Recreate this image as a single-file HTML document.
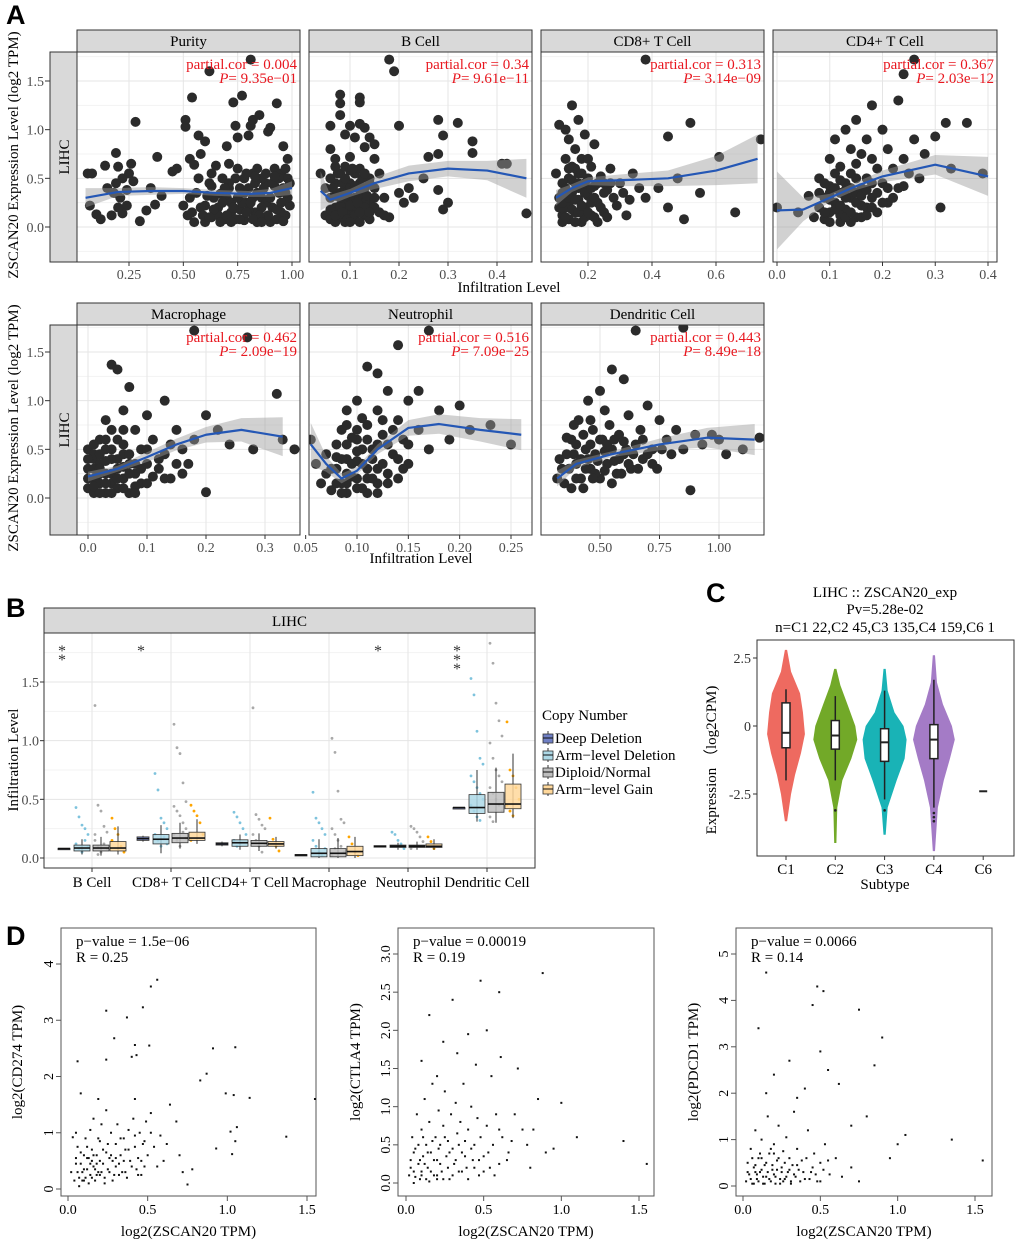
<!DOCTYPE html>
<html><head><meta charset="utf-8"><style>
html,body{margin:0;padding:0;background:#fff}
svg{display:block;font-family:"Liberation Serif",serif}
.lt{font-family:"Liberation Sans",sans-serif;font-weight:bold;font-size:27px}
</style></head><body>
<svg id="fig" width="1020" height="1243" viewBox="0 0 1020 1243"></svg>
<script>
// ---------- Panel A data ----------
const aPanels = ["Purity","B Cell","CD8+ T Cell","CD4+ T Cell","Macrophage","Neutrophil","Dendritic Cell"];
const aCor = ["0.004","0.34","0.313","0.367","0.462","0.516","0.443"];
const aP = ["9.35e\u221201","9.61e\u221211","3.14e\u221209","2.03e\u221212","2.09e\u221219","7.09e\u221225","8.49e\u221218"];
const aXTicks = [[0.25,0.5,0.75,1.0],[0.1,0.2,0.3,0.4],[0.2,0.4,0.6],[0.0,0.1,0.2,0.3,0.4],[0.0,0.1,0.2,0.3],[0.05,0.10,0.15,0.20,0.25],[0.50,0.75,1.00]];
const aXTickLabels = [["0.25","0.50","0.75","1.00"],["0.1","0.2","0.3","0.4"],["0.2","0.4","0.6"],["0.0","0.1","0.2","0.3","0.4"],["0.0","0.1","0.2","0.3"],["0.05","0.10","0.15","0.20","0.25"],["0.50","0.75","1.00"]];
const aYTicks = [0,0.5,1.0,1.5];
const aYTickLabels = ["0.0","0.5","1.0","1.5"];
const ptsPurity = [0.06,0.55,0.08,0.55,0.1,0.13,0.07,0.22,0.12,0.08,0.14,0.63,0.18,0.35,0.19,0.76,0.2,0.62,0.22,0.5,0.21,0.3,0.24,0.22,0.25,0.55,0.26,0.65,0.27,0.47,0.28,1.08,0.17,0.12,0.22,0.14,0.3,0.06,0.33,0.17,0.35,0.4,0.38,0.72,0.37,0.23,0.4,0.32,0.45,0.57,0.47,0.6,0.51,1.1,0.51,1.03,0.5,0.22,0.52,0.12,0.53,0.7,0.54,1.33,0.55,0.64,0.55,0.05,0.57,0.94,0.58,0.75,0.6,0.22,0.6,0.88,0.62,1.6,0.62,0.45,0.63,0.1,0.65,0.63,0.66,0.2,0.67,0.34,0.68,0.5,0.7,0.83,0.71,0.65,0.72,0.15,0.73,1.28,0.74,1.04,0.75,0.92,0.76,0.4,0.77,1.35,0.78,0.07,0.79,0.25,0.8,0.94,0.81,1.72,0.81,1.04,0.82,1.1,0.82,0.55,0.83,0.15,0.84,0.6,0.85,1.15,0.86,0.3,0.87,0.1,0.88,0.45,0.89,0.98,0.9,1.02,0.91,0.2,0.92,0.6,0.93,1.27,0.94,0.35,0.95,0.55,0.96,0.83,0.97,0.12,0.98,0.7,0.99,0.22,0.9,0.05,0.7,0.3,0.64,0.3,0.58,0.2,0.74,0.5,0.78,0.35,0.86,0.5,0.96,0.4,0.69,0.08,0.56,0.35,0.76,0.18,0.88,0.25,0.92,0.42,0.82,0.3,0.72,0.25,0.6,0.05,0.66,0.12,0.74,0.08,0.8,0.18,0.84,0.05,0.95,0.15,0.98,0.5,0.53,0.3,0.63,0.42,0.71,0.45,0.89,0.12,0.93,0.08,0.98,0.3,0.86,0.2,0.77,0.25,
 0.59,0.12,0.61,0.32,0.64,0.18,0.67,0.05,0.68,0.25,0.7,0.12,0.71,0.4,0.73,0.2,0.75,0.3,0.76,0.08,0.78,0.5,0.79,0.15,0.8,0.4,0.81,0.25,0.83,0.45,0.84,0.35,0.85,0.12,0.86,0.05,0.87,0.4,0.88,0.55,0.9,0.3,0.91,0.45,0.93,0.18,0.94,0.5,0.95,0.25,0.96,0.06,0.97,0.35,0.99,0.45,0.57,0.5,0.63,0.55,0.69,0.4,0.75,0.6,0.79,0.55,0.83,0.52,0.92,0.52,0.97,0.6,0.54,0.15,0.62,0.1,0.72,0.05,0.82,0.08,0.15,0.4,0.2,0.2,0.24,0.38,0.19,0.45];
const ptsBCell = [0.04,0.55,0.05,0.12,0.06,1.04,0.06,0.8,0.06,0.3,0.06,0.08,0.07,0.45,0.07,0.2,0.07,0.7,0.08,1.36,0.08,1.27,0.08,1.15,0.08,0.55,0.08,0.1,0.08,0.35,0.09,0.95,0.09,0.62,0.09,0.25,0.09,0.05,0.1,1.04,0.1,0.45,0.1,0.15,0.1,0.72,0.11,0.92,0.11,0.55,0.11,0.3,0.11,0.08,0.12,1.33,0.12,1.28,0.12,1.06,0.12,0.6,0.12,0.2,0.13,1.02,0.13,0.82,0.13,0.4,0.13,0.12,0.14,0.92,0.14,0.5,0.14,0.25,0.15,0.85,0.15,0.7,0.15,0.4,0.16,0.15,0.16,0.55,0.17,0.3,0.18,1.72,0.18,0.1,0.19,1.6,0.2,1.04,0.2,0.35,0.21,0.25,0.22,0.4,0.23,0.3,0.25,0.5,0.26,0.72,0.28,1.1,0.28,0.75,0.28,0.38,0.29,0.94,0.29,0.18,0.3,0.25,0.32,1.07,0.35,0.76,0.35,0.88,0.41,0.65,0.42,0.65,0.46,0.14,0.05,0.4,0.07,0.05,0.09,0.15,0.1,0.3,0.12,0.45,0.14,0.08,0.11,0.2,0.06,0.5,0.08,0.22,0.09,0.4,0.1,0.58,0.07,0.32,0.12,0.32,0.13,0.25,0.15,0.2,0.17,0.12,
 0.06,0.18,0.065,0.4,0.07,0.12,0.075,0.55,0.08,0.3,0.085,0.45,0.085,0.15,0.09,0.5,0.095,0.08,0.1,0.22,0.1,0.4,0.105,0.6,0.11,0.12,0.11,0.42,0.115,0.25,0.12,0.05,0.12,0.38,0.125,0.5,0.13,0.2,0.135,0.32,0.14,0.15,0.14,0.45,0.15,0.3,0.07,0.62,0.09,0.32,0.1,0.05,0.12,0.15,0.13,0.55];
const ptsCD8 = [0.1,0.55,0.11,1.05,0.11,0.3,0.12,0.12,0.12,0.45,0.13,1.0,0.13,0.7,0.13,0.2,0.14,0.9,0.14,0.5,0.14,0.08,0.15,1.25,0.15,0.35,0.15,0.62,0.16,0.8,0.16,0.15,0.16,0.45,0.17,1.1,0.17,0.28,0.17,0.55,0.18,0.05,0.18,0.4,0.18,0.7,0.19,0.95,0.19,0.2,0.2,0.5,0.2,0.32,0.21,0.12,0.21,0.62,0.22,0.42,0.22,0.85,0.23,0.25,0.24,0.52,0.25,0.15,0.26,0.38,0.27,0.6,0.28,0.3,0.3,0.45,0.32,0.12,0.34,0.55,0.38,1.72,0.38,0.3,0.42,0.4,0.45,0.93,0.45,0.2,0.48,0.5,0.5,0.08,0.52,1.07,0.55,0.35,0.61,0.72,0.66,0.15,0.74,0.9,0.12,0.35,0.14,0.25,0.16,0.6,0.19,0.1,0.2,0.7,0.23,0.05,0.12,0.05,0.17,0.4,0.25,0.45,
 0.11,0.2,0.12,0.25,0.13,0.4,0.13,0.1,0.14,0.3,0.14,0.6,0.15,0.18,0.15,0.48,0.16,0.28,0.16,0.05,0.17,0.15,0.17,0.45,0.18,0.22,0.18,0.55,0.19,0.35,0.19,0.45,0.2,0.15,0.21,0.4,0.21,0.25,0.22,0.1,0.22,0.3,0.23,0.45,0.24,0.2,0.25,0.35,0.26,0.1,0.27,0.45,0.29,0.22,0.31,0.35,0.33,0.28,0.36,0.4];
const ptsCD4 = [0.0,0.2,0.04,0.15,0.06,0.32,0.07,0.1,0.08,0.2,0.08,0.5,0.09,0.3,0.09,0.08,0.1,0.7,0.1,0.42,0.1,0.15,0.11,0.55,0.11,0.25,0.11,0.9,0.12,0.05,0.12,0.35,0.12,0.62,0.13,1.0,0.13,0.45,0.13,0.18,0.14,0.8,0.14,0.3,0.14,0.55,0.15,0.1,0.15,0.65,0.15,1.1,0.16,0.4,0.16,0.22,0.17,0.9,0.17,0.5,0.18,1.25,0.18,0.3,0.18,0.7,0.19,0.15,0.19,0.6,0.2,1.0,0.2,0.45,0.21,0.8,0.21,0.25,0.22,0.6,0.23,1.3,0.23,0.4,0.24,1.57,0.24,0.7,0.25,0.55,0.26,1.72,0.26,0.9,0.27,0.5,0.28,0.75,0.3,0.93,0.31,0.2,0.32,1.07,0.33,0.6,0.36,1.07,0.39,0.55,0.12,0.12,0.14,0.05,0.16,0.75,0.1,0.28,0.13,0.38,0.17,0.2,0.09,0.45,0.15,0.35,
 0.08,0.35,0.09,0.15,0.1,0.35,0.1,0.05,0.11,0.18,0.11,0.4,0.12,0.22,0.12,0.48,0.13,0.1,0.13,0.3,0.14,0.4,0.14,0.15,0.15,0.25,0.15,0.5,0.16,0.1,0.16,0.32,0.17,0.38,0.17,0.12,0.18,0.45,0.18,0.2,0.19,0.35,0.2,0.25,0.21,0.4,0.22,0.3,0.24,0.42];
const ptsMacro = [0.0,0.1,0.0,0.3,0.0,0.5,0.01,0.05,0.01,0.2,0.01,0.4,0.02,0.6,0.02,0.15,0.02,0.35,0.03,0.05,0.03,0.25,0.03,0.5,0.03,0.8,0.04,1.37,0.04,0.15,0.04,0.4,0.05,1.32,0.05,0.3,0.05,0.6,0.05,0.1,0.06,0.9,0.06,0.2,0.06,0.45,0.07,1.14,0.07,0.35,0.07,0.05,0.08,0.7,0.08,0.25,0.09,0.5,0.09,0.15,0.1,0.85,0.1,0.35,0.11,0.6,0.12,0.3,0.13,1.0,0.13,0.45,0.14,0.2,0.15,0.7,0.16,0.5,0.17,0.35,0.18,1.72,0.18,0.6,0.2,0.85,0.2,0.06,0.22,0.7,0.24,0.55,0.27,1.65,0.28,0.5,0.32,1.07,0.33,0.6,0.35,0.5,0.02,0.25,0.04,0.05,0.06,0.32,0.01,0.45,0.03,0.38,0.08,0.12,0.11,0.22,
 0.0,0.2,0.0,0.4,0.01,0.3,0.01,0.12,0.02,0.05,0.02,0.45,0.02,0.3,0.03,0.15,0.03,0.6,0.04,0.25,0.04,0.5,0.05,0.2,0.05,0.4,0.06,0.1,0.06,0.55,0.07,0.25,0.07,0.45,0.08,0.35,0.08,0.05,0.09,0.3,0.1,0.15,0.1,0.5,0.12,0.4,0.13,0.2,0.14,0.55,0.15,0.35,0.16,0.25,0.04,0.7,0.06,0.7,0.01,0.55];
const ptsNeut = [0.055,0.6,0.06,0.35,0.065,0.15,0.07,0.45,0.07,0.25,0.075,0.08,0.08,0.55,0.08,0.3,0.085,0.15,0.085,0.7,0.09,0.05,0.09,0.4,0.09,0.9,0.095,0.22,0.1,0.6,0.1,0.1,0.1,1.0,0.105,0.35,0.11,1.35,0.11,0.75,0.11,0.2,0.115,0.5,0.12,1.28,0.12,0.9,0.12,0.3,0.125,0.65,0.13,1.1,0.13,0.15,0.135,0.45,0.14,1.57,0.14,0.8,0.145,0.6,0.15,1.0,0.15,0.35,0.16,1.1,0.16,0.7,0.17,1.72,0.17,0.5,0.18,0.9,0.19,0.6,0.2,0.95,0.21,0.7,0.23,0.75,0.25,0.55,0.08,0.42,0.09,0.25,0.1,0.48,0.11,0.05,0.12,0.15,0.095,0.62,0.105,0.82,
 0.075,0.3,0.08,0.15,0.085,0.4,0.09,0.55,0.09,0.15,0.095,0.35,0.1,0.2,0.1,0.38,0.105,0.5,0.105,0.1,0.11,0.3,0.11,0.6,0.115,0.4,0.115,0.2,0.12,0.55,0.12,0.05,0.125,0.35,0.13,0.25,0.13,0.55,0.135,0.7,0.14,0.4,0.14,0.2,0.15,0.55,0.145,0.3,0.085,0.05,0.1,0.7,0.125,0.8,0.09,0.75];
const ptsDC = [0.32,0.2,0.34,0.3,0.36,0.45,0.38,0.1,0.38,0.6,0.4,0.35,0.41,0.8,0.42,0.2,0.44,0.5,0.45,1.0,0.46,0.3,0.47,0.7,0.48,0.45,0.5,1.1,0.5,0.2,0.51,0.6,0.52,0.9,0.53,0.35,0.54,0.75,0.55,1.32,0.55,0.5,0.57,0.25,0.58,0.65,0.6,1.22,0.6,0.45,0.62,0.85,0.63,0.3,0.65,1.72,0.65,0.55,0.67,0.7,0.68,0.4,0.7,0.95,0.72,0.5,0.74,0.3,0.75,0.8,0.78,0.6,0.8,0.45,0.82,0.7,0.85,1.75,0.85,0.5,0.88,0.08,0.9,0.65,0.93,0.55,0.97,0.65,1.0,0.6,1.03,0.45,1.1,0.5,1.17,0.62,0.4,0.55,0.43,0.65,0.48,0.25,0.52,0.48,0.56,0.38,0.6,0.58,0.45,0.4,
 0.33,0.4,0.35,0.15,0.37,0.3,0.39,0.45,0.4,0.2,0.42,0.4,0.43,0.1,0.44,0.3,0.46,0.55,0.47,0.2,0.49,0.38,0.5,0.6,0.52,0.28,0.53,0.55,0.55,0.15,0.56,0.6,0.58,0.4,0.59,0.25,0.61,0.5,0.62,0.35,0.64,0.45,0.66,0.3,0.68,0.6,0.7,0.45,0.72,0.35,0.76,0.5,0.46,0.8,0.39,0.75,0.36,0.62];
const aPoints = [ptsPurity,ptsBCell,ptsCD8,ptsCD4,ptsMacro,ptsNeut,ptsDC];
const aFitX = [[0.05,0.2,0.35,0.5,0.65,0.8,0.9,1.0],[0.04,0.06,0.1,0.15,0.22,0.3,0.38,0.46],[0.1,0.15,0.2,0.3,0.45,0.6,0.73],[0.0,0.05,0.1,0.15,0.2,0.3,0.4],[0.0,0.05,0.1,0.15,0.2,0.26,0.33],[0.055,0.07,0.085,0.1,0.12,0.15,0.18,0.22,0.26],[0.32,0.4,0.55,0.75,0.95,1.15]];
const aFitY = [[0.3,0.36,0.37,0.37,0.35,0.34,0.35,0.4],[0.37,0.28,0.35,0.45,0.55,0.6,0.58,0.5],[0.3,0.4,0.47,0.48,0.5,0.58,0.7],[0.17,0.18,0.3,0.42,0.52,0.64,0.52],[0.22,0.3,0.42,0.55,0.65,0.7,0.63],[0.55,0.35,0.2,0.28,0.5,0.72,0.76,0.7,0.65],[0.2,0.35,0.45,0.55,0.62,0.6]];
const aFitSE = [[0.1,0.04,0.04,0.03,0.03,0.03,0.04,0.07],[0.2,0.05,0.04,0.06,0.08,0.08,0.1,0.2],[0.08,0.04,0.04,0.06,0.08,0.15,0.25],[0.4,0.12,0.04,0.04,0.06,0.1,0.2],[0.05,0.03,0.05,0.06,0.08,0.12,0.2],[0.22,0.08,0.05,0.04,0.05,0.08,0.1,0.12,0.16],[0.08,0.04,0.03,0.06,0.1,0.16]];
// ---------- Panel B data ----------
const bCats = ["B Cell","CD8+ T Cell","CD4+ T Cell","Macrophage","Neutrophil","Dendritic Cell"];
const bGroups = ["Deep Deletion","Arm\u2212level Deletion","Diploid/Normal","Arm\u2212level Gain"];
const bYTicks = [0,0.5,1.0,1.5];
const bYTickLabels = ["0.0","0.5","1.0","1.5"];
const bStats = [
 [[0.08,0.077,0.083,0.077,0.083],[0.085,0.06,0.11,0.03,0.16],[0.085,0.06,0.11,0.02,0.18],[0.085,0.06,0.14,0.03,0.27]],
 [[0.165,0.15,0.18,0.14,0.19],[0.16,0.12,0.2,0.04,0.28],[0.17,0.13,0.21,0.08,0.3],[0.17,0.15,0.22,0.12,0.33]],
 [[0.12,0.11,0.13,0.1,0.14],[0.13,0.1,0.155,0.07,0.2],[0.125,0.1,0.15,0.06,0.21],[0.12,0.1,0.14,0.08,0.18]],
 [[0.025,0.02,0.03,0.02,0.03],[0.04,0.01,0.08,0.0,0.16],[0.04,0.01,0.08,0.0,0.17],[0.055,0.02,0.1,0.0,0.18]],
 [[0.1,0.1,0.105,0.1,0.105],[0.1,0.09,0.11,0.07,0.13],[0.1,0.09,0.11,0.07,0.14],[0.1,0.09,0.12,0.07,0.16]],
 [[0.43,0.43,0.43,0.43,0.43],[0.43,0.38,0.54,0.31,0.75],[0.46,0.39,0.56,0.3,0.77],[0.46,0.42,0.63,0.34,0.89]]];
const bOutliers = [
 [[],[0.43,0.35,0.28,0.25,0.2,0.12,0.08,0.05,0.15,0.1],[1.3,0.45,0.4,0.27,0.22,0.15,0.1,0.05,0.12,0.08,0.2,0.03],[0.34,0.25,0.2,0.1,0.05,0.15]],
 [[],[0.72,0.58,0.34,0.3,0.25,0.2,0.15,0.1,0.18,0.12],[1.14,0.94,0.89,0.64,0.48,0.44,0.4,0.36,0.3,0.25,0.2,0.15,0.1,0.22,0.17],[0.45,0.4,0.36,0.3,0.2,0.15]],
 [[],[0.39,0.35,0.3,0.25,0.2,0.15,0.1,0.12],[1.28,0.37,0.33,0.28,0.25,0.2,0.15,0.1,0.05,0.12],[0.34,0.16,0.1,0.06]],
 [[],[0.56,0.34,0.3,0.25,0.2,0.15,0.1,0.05,0.02,0.08],[1.02,0.9,0.57,0.33,0.3,0.25,0.2,0.15,0.1,0.05,0.02,0.08],[0.18,0.12,0.05,0.02]],
 [[],[0.22,0.2,0.15,0.12,0.08,0.1],[0.27,0.25,0.22,0.18,0.14,0.08,0.1],[0.18,0.14,0.08]],
 [[],[1.53,1.39,1.08,0.85,0.8,0.7,0.65,0.6,0.55,0.5,0.45,0.4,0.35,0.32],[1.83,1.66,1.32,1.17,1.04,0.98,0.85,0.75,0.7,0.65,0.6,0.55,0.5,0.45,0.4,0.35,0.31],[1.16,0.75,0.7,0.6,0.5,0.45,0.4,0.36]]];
const bStars = ["**","*","","","*","***"];
// ---------- Panel C data ----------
const cCats = ["C1","C2","C3","C4","C6"];
const cYTicks = [2.5,0,-2.5];
const cYTickLabels = ["2.5","0","-2.5"];
const cViolinY = [[2.8,2.0,1.2,0.5,-0.3,-1.0,-1.8,-2.5,-3.5],[2.1,1.5,0.8,0,-0.5,-1.2,-2.0,-3.0,-4.3],[2.1,1.3,0.5,0,-0.5,-1.2,-2.0,-3.0,-4.0],[2.6,1.6,0.8,0,-0.5,-1.2,-2.0,-3.0,-4.6]];
const cViolinD = [[0.05,0.23,0.64,0.77,0.86,0.68,0.41,0.23,0.05],[0.05,0.23,0.55,0.91,1.0,0.73,0.32,0.09,0.05],[0.05,0.14,0.45,0.86,1.0,0.91,0.55,0.14,0.05],[0.05,0.14,0.41,0.82,0.95,0.73,0.45,0.18,0.05]];
const cColors = ["#EE6A60","#72A928","#19B3B6","#A47BC6"];
const cBox = [[-0.25,-0.8,0.85,-2.0,1.35],[-0.35,-0.85,0.2,-2.0,1.1],[-0.6,-1.3,-0.1,-2.7,1.3],[-0.5,-1.2,0.05,-3.0,1.7],[-2.4,-2.4,-2.4,-2.4,-2.4]];
const cOut = [[],[-3.1],[-3.1],[-3.2,-3.35,-3.5],[]];
// ---------- Panel D data ----------
const dYLabels = ["log2(CD274 TPM)","log2(CTLA4 TPM)","log2(PDCD1 TPM)"];
const dPv = ["p\u2212value = 1.5e\u221206","p\u2212value = 0.00019","p\u2212value = 0.0066"];
const dR = ["R = 0.25","R = 0.19","R = 0.14"];
const dXTicks = [0,0.5,1.0,1.5];
const dXTickLabels = ["0.0","0.5","1.0","1.5"];
const dYTicks = [[0,1,2,3,4],[0,0.5,1,1.5,2,2.5,3],[0,1,2,3,4,5]];
const dYTickLabels = [["0","1","2","3","4"],["0.0","0.5","1.0","1.5","2.0","2.5","3.0"],["0","1","2","3","4","5"]];
const dPts1 = [0.52,3.6,0.56,3.72,0.47,3.23,0.24,3.17,0.37,3.05,0.29,2.68,0.42,2.56,0.51,2.55,0.06,2.27,0.24,2.3,0.4,2.35,0.43,2.38,0.91,2.5,1.05,2.52,0.87,2.05,0.83,1.93,0.99,1.7,1.04,1.67,1.14,1.62,1.55,1.6,1.37,0.93,1.06,1.1,1.02,1.02,1.05,0.85,1.03,0.62,0.75,0.08,0.93,0.72,0.72,0.3,0.78,0.35,0.08,1.7,0.19,1.6,0.42,1.6,0.52,1.35,0.64,1.5,0.68,1.2,0.6,0.5,0.62,0.8,0.7,0.6,0.02,0.3,0.03,0.92,0.05,1.0,0.06,0.75,0.07,0.2,0.08,0.45,0.1,0.6,0.1,0.15,0.11,0.9,0.12,0.35,0.13,0.55,0.14,1.05,0.14,0.25,0.15,0.7,0.16,1.25,0.16,0.4,0.17,0.15,0.18,0.6,0.19,0.3,0.2,0.85,0.21,1.15,0.22,0.45,0.23,0.2,0.24,1.4,0.24,0.65,0.25,0.35,0.27,1.0,0.28,0.5,0.29,0.25,0.3,0.8,0.31,1.15,0.32,0.45,0.33,0.6,0.34,0.3,0.35,0.9,0.36,0.7,0.37,0.2,0.38,1.05,0.39,0.5,0.41,1.25,0.42,0.75,0.43,0.35,0.44,0.55,0.45,1.0,0.46,0.25,0.47,0.8,0.48,0.4,0.49,1.2,0.5,0.6,0.52,1.0,0.54,0.75,0.56,0.4,0.58,0.95,0.12,0.55,0.18,0.45,0.2,0.25,0.09,0.3,0.15,0.5,0.26,0.55,0.3,0.4,0.05,0.45,
 0.04,0.15,0.05,0.55,0.06,0.3,0.07,0.05,0.08,0.65,0.09,0.15,0.1,0.35,0.11,0.2,0.12,0.75,0.13,0.1,0.14,0.45,0.15,0.2,0.16,0.6,0.17,0.35,0.18,0.25,0.19,0.9,0.2,0.5,0.21,0.3,0.22,0.7,0.23,0.1,0.25,0.8,0.26,0.3,0.27,0.6,0.28,0.15,0.3,0.55,0.32,0.25,0.33,0.9,0.35,0.5,0.36,0.3,0.38,0.7,0.4,0.4,0.42,0.95,0.44,0.25,0.46,0.5,0.48,0.85];
const dPts2 = [0.88,2.75,0.6,2.5,0.48,2.65,0.3,2.4,0.15,2.2,0.52,2.0,0.4,1.95,0.24,1.85,0.33,1.7,0.1,1.6,0.61,1.65,0.72,1.5,0.55,1.4,0.45,1.55,0.2,1.4,0.85,1.1,0.82,0.7,1.0,1.05,1.4,0.55,1.1,0.6,0.95,0.45,0.7,0.9,0.65,0.3,0.02,0.1,0.03,0.3,0.04,0.6,0.05,0.15,0.06,0.45,0.07,0.9,0.08,0.25,0.09,0.05,0.1,0.7,0.11,0.35,0.12,1.1,0.13,0.5,0.14,0.2,0.15,0.8,0.16,0.4,0.17,1.3,0.18,0.1,0.19,0.6,0.2,0.3,0.21,0.95,0.22,0.5,0.23,0.15,0.24,0.75,0.25,1.2,0.26,0.35,0.27,0.55,0.28,0.05,0.29,0.9,0.3,0.45,0.31,0.25,0.32,1.05,0.33,0.65,0.34,0.15,0.35,0.8,0.36,0.4,0.37,1.3,0.38,0.55,0.39,0.2,0.4,0.7,0.42,1.0,0.43,0.3,0.44,0.5,0.46,0.85,0.47,0.1,0.48,0.6,0.5,0.35,0.52,0.75,0.54,0.2,0.56,0.5,0.58,0.9,0.6,0.25,0.62,0.6,0.66,0.4,0.75,0.7,0.8,0.2,0.9,0.4,1.55,0.25,0.05,0.0,0.1,0.1,0.15,0.02,0.2,0.05,
 0.03,0.2,0.05,0.4,0.06,0.08,0.08,0.5,0.09,0.3,0.1,0.15,0.11,0.6,0.12,0.25,0.13,0.05,0.14,0.4,0.16,0.15,0.17,0.55,0.18,0.3,0.2,0.1,0.21,0.45,0.22,0.25,0.24,0.05,0.25,0.6,0.27,0.2,0.28,0.4,0.3,0.1,0.32,0.3,0.34,0.5,0.36,0.15,0.38,0.35,0.4,0.05,0.42,0.45,0.44,0.2,0.47,0.3,0.5,0.15,0.53,0.4,0.57,0.1,0.6,0.7,0.68,0.55,0.78,0.5];
const dPts3 = [0.15,4.6,0.48,4.3,0.52,4.2,0.45,3.9,0.75,3.8,0.1,3.4,0.9,3.2,0.85,2.6,0.5,2.9,0.3,2.7,0.2,2.4,0.55,2.5,0.4,2.1,0.15,2.0,0.62,2.2,0.35,1.9,1.05,1.1,1.0,0.9,1.35,1.0,1.55,0.55,0.95,0.6,0.8,1.5,0.7,1.3,0.02,0.1,0.03,0.5,0.04,0.25,0.05,0.8,0.06,0.05,0.07,0.4,0.08,1.2,0.09,0.15,0.1,0.6,0.11,0.3,0.12,1.0,0.13,0.05,0.14,0.45,0.15,0.2,0.16,1.5,0.17,0.7,0.18,0.1,0.19,0.35,0.2,0.9,0.21,0.2,0.22,0.55,0.23,1.3,0.24,0.05,0.25,0.4,0.26,0.75,0.27,0.15,0.28,1.05,0.29,0.3,0.3,0.6,0.31,0.1,0.32,0.45,0.33,1.6,0.34,0.2,0.35,0.8,0.36,0.35,0.38,0.55,0.4,0.15,0.42,1.2,0.44,0.3,0.46,0.7,0.48,0.1,0.5,0.5,0.53,0.9,0.56,0.25,0.6,0.6,0.64,0.2,0.7,0.4,0.75,0.1,0.12,0.6,0.2,0.7,0.08,0.3,
 0.03,0.3,0.05,0.15,0.06,0.6,0.07,0.05,0.08,0.45,0.09,0.25,0.1,0.1,0.11,0.7,0.12,0.35,0.13,0.2,0.14,0.05,0.15,0.5,0.16,0.3,0.17,0.15,0.18,0.8,0.19,0.45,0.2,0.25,0.21,0.05,0.22,0.35,0.23,0.6,0.24,0.15,0.25,0.3,0.26,0.1,0.27,0.5,0.28,0.2,0.3,0.35,0.31,0.05,0.33,0.25,0.35,0.45,0.37,0.1,0.39,0.3,0.41,0.6,0.43,0.15,0.45,0.4,0.47,0.25,0.5,0.1,0.52,0.35,0.55,0.55];
const dPoints = [dPts1,dPts2,dPts3];

// ---------- rendering ----------
const svg = document.getElementById('fig');
const NS = 'http://www.w3.org/2000/svg';
function mk(tag, attrs, parent) {
  const e = document.createElementNS(NS, tag);
  for (const k in attrs) e.setAttribute(k, attrs[k]);
  (parent || svg).appendChild(e);
  return e;
}
function txt(s, x, y, size, extra, parent) {
  const t = mk('text', Object.assign({x:x, y:y, 'font-size':size}, extra || {}), parent);
  t.textContent = s;
  return t;
}
function lin(d0, d1, r0, r1) { return v => r0 + (v - d0) * (r1 - r0) / (d1 - d0); }

[["A",6,24],["B",6,617],["C",706,602],["D",6,945]].forEach(l => {
  const t = txt(l[0], l[1], l[2], 27, {class:'lt'});
  
  
});

// ---- Panel A ----
const aBox = [
 {x0:77,x1:300,row:0,d0:0.25,r0:129,d1:1.0,r1:292},
 {x0:309,x1:532,row:0,d0:0.1,r0:350,d1:0.4,r1:497},
 {x0:541,x1:764,row:0,d0:0.2,r0:588,d1:0.6,r1:716},
 {x0:773,x1:997,row:0,d0:0.0,r0:777,d1:0.4,r1:988},
 {x0:77,x1:300,row:1,d0:0.0,r0:88,d1:0.3,r1:265},
 {x0:309,x1:532,row:1,d0:0.10,r0:357,d1:0.25,r1:511},
 {x0:541,x1:764,row:1,d0:0.5,r0:600,d1:1.0,r1:719}];
const aRows = [{top:52,bot:262,y0:227,y15:81,strip:30},{top:325,bot:535,y0:498,y15:352,strip:303}];
aRows.forEach((r, ri) => {
  const g = mk('g', {});
  
  
  mk('rect', {x:50, y:r.top, width:27, height:r.bot - r.top, fill:'#D9D9D9', stroke:'#333', 'stroke-width':1}, g);
  txt('LIHC', 69, (r.top + r.bot) / 2, 15, {transform:`rotate(-90 69 ${(r.top + r.bot) / 2})`, 'text-anchor':'middle'}, g);
  const yt = mk('text', {x:18, y:(r.top + r.bot) / 2 - 2, 'font-size':15, 'text-anchor':'middle', transform:`rotate(-90 18 ${(r.top + r.bot) / 2 - 2})`});
  yt.textContent = 'ZSCAN20 Expression Level (log2 TPM)';
  
  
  const sy = lin(0, 1.5, r.y0, r.y15);
  aYTicks.forEach((v, i) => {
    mk('line', {x1:45, x2:50, y1:sy(v), y2:sy(v), stroke:'#333'});
    txt(aYTickLabels[i], 44, sy(v) + 5, 14, {'text-anchor':'end', fill:'#4D4D4D'});
  });
});
aPanels.forEach((name, i) => {
  const b = aBox[i], r = aRows[b.row];
  const sx = lin(b.d0, b.d1, b.r0, b.r1), sy = lin(0, 1.5, r.y0, r.y15);
  const g = mk('g', {});
  
  
  mk('rect', {x:b.x0, y:r.strip, width:b.x1 - b.x0, height:22, fill:'#D9D9D9', stroke:'#333'}, g);
  txt(name, (b.x0 + b.x1) / 2, r.strip + 16, 15, {'text-anchor':'middle'}, g);
  mk('rect', {x:b.x0, y:r.top, width:b.x1 - b.x0, height:r.bot - r.top, fill:'#fff'}, g);
  const clip = mk('clipPath', {id:'clipA' + i}, g);
  mk('rect', {x:b.x0, y:r.top, width:b.x1 - b.x0, height:r.bot - r.top}, clip);
  const inner = mk('g', {'clip-path':`url(#clipA${i})`}, g);
  for (let v = -0.25; v <= 1.75; v += 0.25) mk('line', {x1:b.x0, x2:b.x1, y1:sy(v), y2:sy(v), stroke:(v * 4) % 2 ? '#F3F3F3' : '#E5E5E5'}, inner);
  aXTicks[i].forEach(v => mk('line', {x1:sx(v), x2:sx(v), y1:r.top, y2:r.bot, stroke:'#E5E5E5'}, inner));
  const P = aPoints[i];
  for (let k = 0; k < P.length; k += 2) {
    const c = mk('circle', {cx:sx(P[k]), cy:sy(P[k + 1]), r:5, fill:'#2B2B2B'}, inner);
    
    
  }
  const fx = aFitX[i], fy = aFitY[i], se = aFitSE[i];
  let up = '', lo = '', ln = '';
  fx.forEach((x, k) => { up += `${sx(x)},${sy(fy[k] + se[k])} `; ln += `${sx(x)},${sy(fy[k])} `; });
  for (let k = fx.length - 1; k >= 0; k--) lo += `${sx(fx[k])},${sy(fy[k] - se[k])} `;
  const band = mk('polygon', {points:up + lo, fill:'#999', 'fill-opacity':0.45}, inner);
  
  
  const fit = mk('polyline', {points:ln, fill:'none', stroke:'#2457B5', 'stroke-width':2.2, 'stroke-linejoin':'round'}, inner);
  
  
  mk('rect', {x:b.x0, y:r.top, width:b.x1 - b.x0, height:r.bot - r.top, fill:'none', stroke:'#333'}, g);
  txt('partial.cor = ' + aCor[i], b.x1 - 3, r.top + 17, 15, {'text-anchor':'end', fill:'#E8171F'}, g);
  const pt = txt('', b.x1 - 3, r.top + 31, 15, {'text-anchor':'end', fill:'#E8171F'}, g);
  const ti = mk('tspan', {'font-style':'italic'}, pt); ti.textContent = 'P';
  const t2 = mk('tspan', {}, pt); t2.textContent = '= ' + aP[i];
  aXTicks[i].forEach((v, k) => {
    mk('line', {x1:sx(v), x2:sx(v), y1:r.bot, y2:r.bot + 4, stroke:'#333'}, g);
    txt(aXTickLabels[i][k], sx(v), r.bot + 17, 14, {'text-anchor':'middle', fill:'#4D4D4D'}, g);
  });
});
[["Infiltration Level",509,292],["Infiltration Level",421,563]].forEach((t, i) => {
  const e = txt(t[0], t[1], t[2], 15, {'text-anchor':'middle'});
  
  
});

// ---- Panel B ----
(function(){
  const x0 = 44, x1 = 535, top = 633, bot = 868;
  const sy = lin(0, 1.5, 858, 682);
  const catX = k => 92 + k * 79;
  const offs = [-28, -10, 9, 26];
  const fills = ['#6F7FC4', '#ADD8E6', '#BEBEBE', '#FFD89B'];
  const pcols = ['#2A3F9A', '#7EC3DD', '#A9A9A9', '#FFA500'];
  const g = mk('g', {});
  
  
  mk('rect', {x:x0, y:608, width:x1 - x0, height:25, fill:'#D9D9D9', stroke:'#333'}, g);
  txt('LIHC', (x0 + x1) / 2, 626, 15, {'text-anchor':'middle'}, g);
  mk('rect', {x:x0, y:top, width:x1 - x0, height:bot - top, fill:'#fff'}, g);
  for (let v = 0; v <= 1.75; v += 0.25) mk('line', {x1:x0, x2:x1, y1:sy(v), y2:sy(v), stroke:(v * 4) % 2 ? '#F3F3F3' : '#E5E5E5'}, g);
  bCats.forEach((c, k) => mk('line', {x1:catX(k), x2:catX(k), y1:top, y2:bot, stroke:'#E5E5E5'}, g));
  bCats.forEach((c, k) => {
    const cg = mk('g', {}, g);
    
    
    bStats[k].forEach((s, j) => {
      const cx = catX(k) + offs[j], w = j === 0 ? 12 : 16;
      bOutliers[k][j].forEach((v, q) => mk('circle', {cx:cx + ((q % 5) - 2) * 3, cy:sy(v), r:1.4, fill:pcols[j]}, cg));
      mk('line', {x1:cx, x2:cx, y1:sy(s[3]), y2:sy(s[4]), stroke:'#333'}, cg);
      const box = mk('rect', {x:cx - w / 2, y:sy(s[2]), width:w, height:Math.max(1.5, sy(s[1]) - sy(s[2])), fill:fills[j], 'fill-opacity':0.85, stroke:'#333', 'stroke-width':0.8}, cg);
      
      
      mk('line', {x1:cx - w / 2, x2:cx + w / 2, y1:sy(s[0]), y2:sy(s[0]), stroke:'#111', 'stroke-width':1.6}, cg);
    });
    const st = bStars[k];
    for (let q = 0; q < st.length; q++) txt('*', catX(k) - 30, 656 + q * 9, 16, {'text-anchor':'middle', fill:'#333'}, cg);
    txt(c, catX(k), 887, 15, {'text-anchor':'middle'}, cg);
    mk('line', {x1:catX(k), x2:catX(k), y1:bot, y2:bot + 4, stroke:'#333'}, cg);
  });
  mk('rect', {x:x0, y:top, width:x1 - x0, height:bot - top, fill:'none', stroke:'#333'}, g);
  bYTicks.forEach((v, i) => {
    mk('line', {x1:x0 - 4, x2:x0, y1:sy(v), y2:sy(v), stroke:'#333'}, g);
    txt(bYTickLabels[i], x0 - 5, sy(v) + 5, 14, {'text-anchor':'end', fill:'#4D4D4D'}, g);
  });
  const yt = txt('Infiltration Level', 18, 760, 15, {'text-anchor':'middle', transform:'rotate(-90 18 760)'});
  
  
  const lg = mk('g', {});
  
  
  txt('Copy Number', 542, 720, 15, {}, lg);
  bGroups.forEach((n, j) => {
    const y = 738 + j * 17;
    const e = mk('g', {}, lg);
    
    
    mk('line', {x1:548, x2:548, y1:y - 7, y2:y + 7, stroke:'#333'}, e);
    mk('rect', {x:543, y:y - 4, width:10, height:9, fill:fills[j], stroke:'#333', 'stroke-width':0.8}, e);
    mk('line', {x1:543, x2:553, y1:y, y2:y, stroke:'#111'}, e);
    txt(n, 555, y + 5, 15, {}, e);
  });
})();

// ---- Panel C ----
(function(){
  const x0 = 757, x1 = 1014, top = 640, bot = 856;
  const sy = lin(0, 2.5, 726, 658);
  const catX = k => 786 + k * 49.3;
  const g = mk('g', {});
  
  
  [['LIHC :: ZSCAN20_exp',597],['Pv=5.28e-02',614],['n=C1 22,C2 45,C3 135,C4 159,C6 1',632]].forEach(t => txt(t[0], 885, t[1], 15, {'text-anchor':'middle'}, g));
  cViolinY.forEach((ys, k) => {
    const cx = catX(k); let l = '', rr = '';
    ys.forEach((y, q) => { rr += `${cx + cViolinD[k][q] * 22},${sy(y)} `; });
    for (let q = ys.length - 1; q >= 0; q--) l += `${cx - cViolinD[k][q] * 22},${sy(ys[q])} `;
    const v = mk('polygon', {points:rr + l, fill:cColors[k], 'stroke-linejoin':'round'}, g);
    
    
  });
  cBox.forEach((s, k) => {
    const cx = catX(k);
    mk('line', {x1:cx, x2:cx, y1:sy(s[3]), y2:sy(s[4]), stroke:'#222', 'stroke-width':1.5}, g);
    if (s[1] !== s[2]) {
      const b = mk('rect', {x:cx - 4, y:sy(s[2]), width:8, height:sy(s[1]) - sy(s[2]), fill:'#fff', stroke:'#222', 'stroke-width':1.5}, g);
      
      
    }
    mk('line', {x1:cx - 4, x2:cx + 4, y1:sy(s[0]), y2:sy(s[0]), stroke:'#222', 'stroke-width':2}, g);
    cOut[k].forEach(v => mk('circle', {cx:cx, cy:sy(v), r:1.3, fill:'#222'}, g));
    mk('line', {x1:cx, x2:cx, y1:bot, y2:bot + 4, stroke:'#333'}, g);
    txt(cCats[k], cx, 874, 15, {'text-anchor':'middle'}, g);
  });
  mk('rect', {x:x0, y:top, width:x1 - x0, height:bot - top, fill:'none', stroke:'#333'}, g);
  cYTicks.forEach((v, i) => {
    mk('line', {x1:x0 - 4, x2:x0, y1:sy(v), y2:sy(v), stroke:'#333'}, g);
    txt(cYTickLabels[i], x0 - 6, sy(v) + 5, 14, {'text-anchor':'end', fill:'#333'}, g);
  });
  txt('Subtype', 885, 889, 15, {'text-anchor':'middle'}, g);
  const yt = txt('Expression \uFF08log2CPM)', 716, 760, 15, {'text-anchor':'middle', transform:'rotate(-90 716 760)'});
  
  
})();

// ---- Panel D ----
const dBoxes = [
 {x0:61,x1:316,xa:68,xb:307,ya0:1189,ya1:964,ymax:4,ytx:22},
 {x0:398,x1:654,xa:406,xb:639,ya0:1183,ya1:954,ymax:3,ytx:360},
 {x0:736,x1:992,xa:743,xb:975,ya0:1186,ya1:954,ymax:5,ytx:698}];
dBoxes.forEach((b, i) => {
  const sx = lin(0, 1.5, b.xa, b.xb), sy = lin(0, b.ymax, b.ya0, b.ya1);
  const g = mk('g', {});
  
  
  mk('rect', {x:b.x0, y:928, width:b.x1 - b.x0, height:268, fill:'none', stroke:'#555'}, g);
  const P = dPoints[i];
  for (let k = 0; k < P.length; k += 2) {
    const c = mk('rect', {x:sx(P[k]) - 1, y:sy(P[k + 1]) - 1, width:2, height:2, fill:'#111'}, g);
    
    
  }
  dXTicks.forEach((v, k) => {
    mk('line', {x1:sx(v), x2:sx(v), y1:1196, y2:1201, stroke:'#555'}, g);
    txt(dXTickLabels[k], sx(v), 1214, 14, {'text-anchor':'middle'}, g);
  });
  dYTicks[i].forEach((v, k) => {
    mk('line', {x1:b.x0 - 5, x2:b.x0, y1:sy(v), y2:sy(v), stroke:'#555'}, g);
    txt(dYTickLabels[i][k], b.x0 - 8, sy(v), 14, {'text-anchor':'middle', transform:`rotate(-90 ${b.x0 - 8} ${sy(v)})`}, g);
  });
  txt(dPv[i], b.x0 + 15, 946, 15, {}, g);
  txt(dR[i], b.x0 + 15, 962, 15, {}, g);
  txt('log2(ZSCAN20 TPM)', (b.x0 + b.x1) / 2, 1236, 15, {'text-anchor':'middle'}, g);
  txt(dYLabels[i], b.ytx, 1062, 15, {'text-anchor':'middle', transform:`rotate(-90 ${b.ytx} 1062)`}, g);
});
</script>
</body></html>
